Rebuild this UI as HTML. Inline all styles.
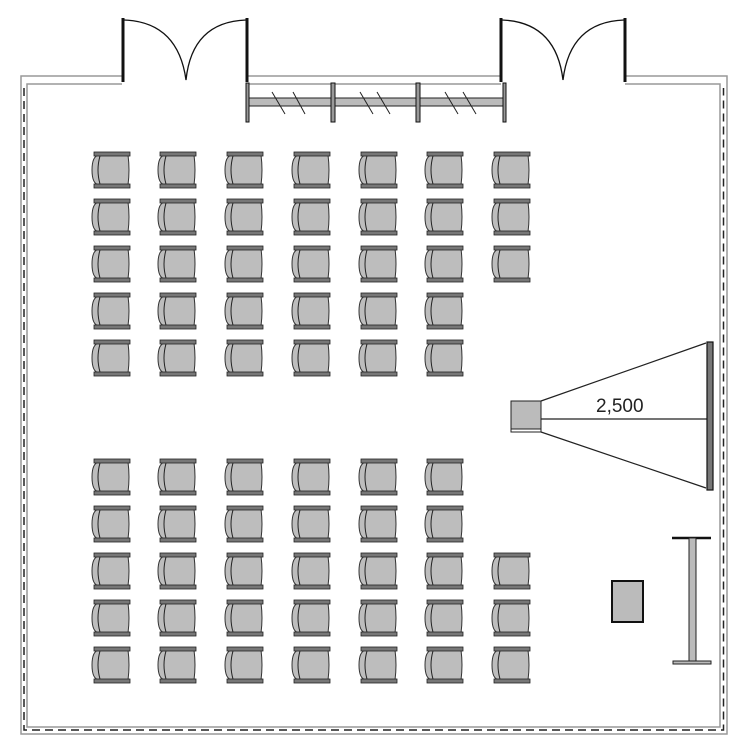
<!DOCTYPE html>
<html><head><style>html,body{margin:0;padding:0;background:#fff}svg{display:block}</style></head>
<body>
<svg width="750" height="750" viewBox="0 0 750 750" xmlns="http://www.w3.org/2000/svg">
<defs>
<g id="c">
  <path d="M8,3 Q1,4 1,18 Q1,32 8,33 L37,33 Q39,18 37,3 Z" fill="#bdbdbd" stroke="#333" stroke-width="1"/>
  <path d="M9,4 Q5,18 9,32" fill="none" stroke="#222" stroke-width="1"/>
  <rect x="3" y="0" width="36" height="4" fill="#777" stroke="#222" stroke-width="0.8"/>
  <rect x="3" y="32" width="36" height="4" fill="#777" stroke="#222" stroke-width="0.8"/>
</g>
</defs>
<!-- walls -->
<g fill="none" stroke="#999" stroke-width="1.5">
  <path d="M122,76 H21 V734 H727 V76 H625"/>
  <path d="M122,84 H27 V727 H720 V84 H625"/>
  <path d="M247,76 H501 M247,84 H501"/>
</g>
<g fill="none" stroke="#222" stroke-width="1.5" stroke-dasharray="8,5">
  <path d="M24,88 V730 H723.5 V88"/>
</g>
<!-- doors -->
<g fill="none" stroke="#111">
  <path d="M123,18 V82 M247,18 V82 M501,18 V82 M625,18 V82" stroke-width="3"/>
  <path d="M124,20 Q178,22 186,80 M246,20 Q192,22 186,80 M502,20 Q556,22 563,80 M624,20 Q570,22 563,80" stroke-width="1.3"/>
</g>
<!-- window -->
<rect x="248" y="98" width="256" height="8" fill="#bbb" stroke="#222" stroke-width="1"/>
<g fill="#999" stroke="#111" stroke-width="1">
  <rect x="246" y="83" width="3" height="39"/>
  <rect x="331" y="83" width="4" height="39"/>
  <rect x="416" y="83" width="4" height="39"/>
  <rect x="503" y="83" width="3" height="39"/>
</g>
<g stroke="#222" stroke-width="1">
  <path d="M272,92 L285,114 M293,92 L305,114 M360,92 L373,114 M377,92 L390,114 M445,92 L458,114 M463,92 L476,114"/>
</g>
<!-- chairs -->
<g>
<use href="#c" x="91" y="152"/><use href="#c" x="157" y="152"/><use href="#c" x="224" y="152"/><use href="#c" x="291" y="152"/><use href="#c" x="358" y="152"/><use href="#c" x="424" y="152"/><use href="#c" x="491" y="152"/>
<use href="#c" x="91" y="199"/><use href="#c" x="157" y="199"/><use href="#c" x="224" y="199"/><use href="#c" x="291" y="199"/><use href="#c" x="358" y="199"/><use href="#c" x="424" y="199"/><use href="#c" x="491" y="199"/>
<use href="#c" x="91" y="246"/><use href="#c" x="157" y="246"/><use href="#c" x="224" y="246"/><use href="#c" x="291" y="246"/><use href="#c" x="358" y="246"/><use href="#c" x="424" y="246"/><use href="#c" x="491" y="246"/>
<use href="#c" x="91" y="293"/><use href="#c" x="157" y="293"/><use href="#c" x="224" y="293"/><use href="#c" x="291" y="293"/><use href="#c" x="358" y="293"/><use href="#c" x="424" y="293"/>
<use href="#c" x="91" y="340"/><use href="#c" x="157" y="340"/><use href="#c" x="224" y="340"/><use href="#c" x="291" y="340"/><use href="#c" x="358" y="340"/><use href="#c" x="424" y="340"/>
<use href="#c" x="91" y="459"/><use href="#c" x="157" y="459"/><use href="#c" x="224" y="459"/><use href="#c" x="291" y="459"/><use href="#c" x="358" y="459"/><use href="#c" x="424" y="459"/>
<use href="#c" x="91" y="506"/><use href="#c" x="157" y="506"/><use href="#c" x="224" y="506"/><use href="#c" x="291" y="506"/><use href="#c" x="358" y="506"/><use href="#c" x="424" y="506"/>
<use href="#c" x="91" y="553"/><use href="#c" x="157" y="553"/><use href="#c" x="224" y="553"/><use href="#c" x="291" y="553"/><use href="#c" x="358" y="553"/><use href="#c" x="424" y="553"/><use href="#c" x="491" y="553"/>
<use href="#c" x="91" y="600"/><use href="#c" x="157" y="600"/><use href="#c" x="224" y="600"/><use href="#c" x="291" y="600"/><use href="#c" x="358" y="600"/><use href="#c" x="424" y="600"/><use href="#c" x="491" y="600"/>
<use href="#c" x="91" y="647"/><use href="#c" x="157" y="647"/><use href="#c" x="224" y="647"/><use href="#c" x="291" y="647"/><use href="#c" x="358" y="647"/><use href="#c" x="424" y="647"/><use href="#c" x="491" y="647"/>
</g>
<!-- projector -->
<rect x="511" y="401" width="30" height="28" fill="#bbb" stroke="#222" stroke-width="1"/>
<rect x="511" y="429" width="30" height="3" fill="#fff" stroke="#222" stroke-width="1"/>
<g stroke="#222" stroke-width="1.2" fill="none">
  <path d="M541,401 L706,343 M541,432 L706,488 M541,419 L707,419"/>
</g>
<rect x="707" y="342" width="6" height="148" fill="#777" stroke="#111" stroke-width="1.2"/>
<text x="596" y="412" font-family="Liberation Sans, sans-serif" font-size="19" fill="#222">2,500</text>
<!-- lectern -->
<rect x="612" y="581" width="31" height="41" fill="#bbb" stroke="#111" stroke-width="2"/>
<path d="M672,538 H711" stroke="#111" stroke-width="2.5"/>
<rect x="689" y="538" width="7" height="124" fill="#bbb" stroke="#222" stroke-width="1"/>
<rect x="673" y="661" width="38" height="3" fill="#bbb" stroke="#222" stroke-width="1"/>
</svg>
</body></html>
